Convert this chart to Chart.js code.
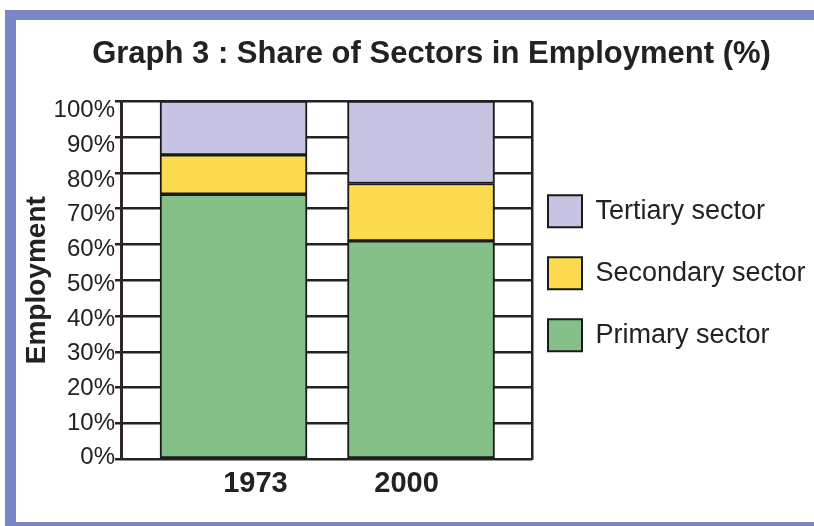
<!DOCTYPE html>
<html>
<head>
<meta charset="utf-8">
<script src="https://cdn.jsdelivr.net/npm/chart.js@4.4.1/dist/chart.umd.min.js"></script>
<style>
  body { margin: 0; background: #fff; }
  #wrap { position: relative; width: 814px; height: 526px; overflow: hidden; }
  #frame { position: absolute; left: 5px; top: 10px; right: 0; bottom: 0;
           border-top: 10px solid #7a87c6; border-left: 11px solid #7a87c6; border-bottom: 4px solid #7a87c6; }
  canvas { position: absolute; left: 0; top: 0; }
</style>
</head>
<body>
<div id="wrap"><div id="frame"></div><canvas id="chart" width="814" height="526"></canvas></div>
<script>
const years = ['1973', '2000'];
const primary = [74, 61];
const secondary = [11, 16];
const tertiary = [15, 23];
const yTicks = [0, 10, 20, 30, 40, 50, 60, 70, 80, 90, 100];

// bars sit at x = 1, 2 on a linear axis, year labels are drawn a bit inward of the bars
const xMin = 0.405, xMax = 2.592;
const xLabelAt = [1.117, 1.923];

const ink = '#222';
Chart.defaults.font.family = "'Liberation Sans', Arial, sans-serif";
Chart.defaults.color = ink;

function points(values) {
  return values.map((v, i) => ({ x: i + 1, y: v }));
}

const ctx = document.getElementById('chart');
const chart = new Chart(ctx, {
  type: 'bar',
  data: {
    datasets: [
      { label: 'Primary sector', data: points(primary), backgroundColor: '#86c089' },
      { label: 'Secondary sector', data: points(secondary), backgroundColor: '#fddb50' },
      { label: 'Tertiary sector', data: points(tertiary), backgroundColor: '#c6c4e2' }
    ]
  },
  options: {
    responsive: false,
    animation: false,
    datasets: {
      bar: { barThickness: 147, borderColor: '#1a1a1a', borderWidth: 2, borderSkipped: false }
    },
    layout: { padding: { left: 49, right: 0, top: 0, bottom: 18 } },
    scales: {
      x: {
        type: 'linear',
        stacked: true,
        offset: false,
        min: xMin,
        max: xMax,
        afterBuildTicks: function(axis) {
          axis.ticks = xLabelAt.concat([xMax]).map(v => ({ value: v }));
        },
        ticks: {
          padding: 7,
          maxRotation: 0,
          autoSkip: false,
          font: { size: 29, weight: 'bold' },
          callback: function(value, index) {
            return years[index] || '';
          }
        },
        grid: {
          offset: false,
          drawTicks: false,
          lineWidth: 2.5,
          // only the right edge of the plot gets a line
          color: c => (c.tick && c.tick.value === xMax) ? ink : 'rgba(0,0,0,0)'
        },
        border: { display: true, color: ink, width: 2 }
      },
      y: {
        stacked: true,
        min: 0,
        max: 100,
        ticks: { display: false, stepSize: 10 },
        grid: { color: ink, lineWidth: 2.5, tickLength: 7 },
        border: { display: true, color: '#2e2624', width: 3 }
      },
      yLabels: {
        type: 'linear',
        position: 'left',
        weight: 1,
        min: -0.43,
        max: 102.75,
        afterBuildTicks: function(axis) {
          axis.ticks = yTicks.map(v => ({ value: v }));
        },
        ticks: {
          padding: 0,
          font: { size: 24 },
          callback: v => v + '%'
        },
        grid: { display: false, drawTicks: false },
        border: { display: false },
        title: {
          display: true,
          text: 'Employment',
          font: { size: 28, weight: 'bold' },
          padding: { top: -29, bottom: 0 }
        }
      }
    },
    plugins: {
      title: {
        display: true,
        text: 'Graph 3 : Share of Sectors in Employment (%)',
        font: { size: 31, weight: 'bold' },
        padding: { top: 36, bottom: 28 }
      },
      legend: {
        position: 'right',
        fullSize: false,
        reverse: true,
        maxWidth: 282,
        labels: {
          boxWidth: 34,
          boxHeight: 32,
          padding: 16,
          color: ink,
          font: { size: 27, lineHeight: 46 / 27 },
          // text as one-line array so the row height follows the font lineHeight
          generateLabels: function(chart) {
            const items = Chart.defaults.plugins.legend.labels.generateLabels(chart);
            items.forEach(it => { it.text = [it.text]; });
            return items;
          }
        }
      },
      tooltip: { enabled: false }
    }
  }
});
</script>
</body>
</html>
